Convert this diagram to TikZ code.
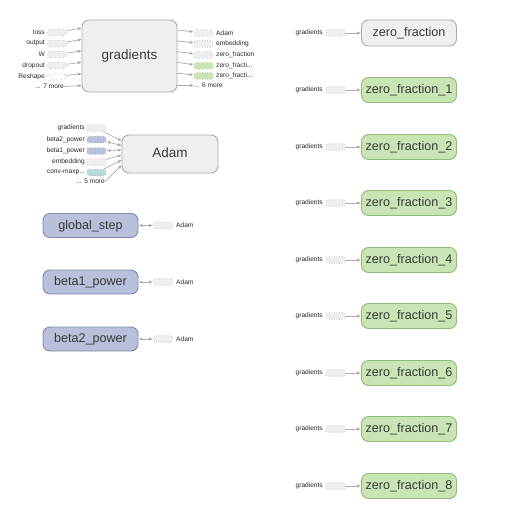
\documentclass[tikz,border=0pt]{standalone}
\usepackage{fontspec}
\setmainfont{Liberation Sans}
\usetikzlibrary{arrows.meta,shapes.geometric}
\definecolor{gfill}{HTML}{EFEFEF}
\definecolor{gdraw}{HTML}{ABABAB}
\definecolor{bfill}{HTML}{B8C0DC}
\definecolor{bdraw}{HTML}{7F89A8}
\definecolor{nfill}{HTML}{C9E5B5}
\definecolor{ndraw}{HTML}{90BA7B}
\definecolor{tfill}{HTML}{B5DAD8}
\definecolor{edge}{HTML}{ABABAB}
\definecolor{optext}{HTML}{3A3A3A}
\tikzset{
  x=1pt,y=-1pt,
  op/.style={draw=gdraw,fill=gfill,rounded corners=7pt,line width=0.9pt,
    font=\fontsize{12.6}{14}\selectfont,text=optext,inner sep=0pt,
    text height=9pt,text depth=2pt},
  opblue/.style={op,draw=bdraw,fill=bfill},
  opgreen/.style={op,draw=ndraw,fill=nfill},
  stub/.style={draw=gdraw,fill=gfill,dotted,rounded corners=2.5pt,line width=0.6pt,
    minimum width=19pt,minimum height=6.5pt,inner sep=0pt},
  stubblue/.style={stub,fill=bfill,draw=bdraw},
  stubgreen/.style={stub,fill=nfill,draw=ndraw},
  stubteal/.style={stub,fill=tfill,draw=gdraw},
  stubell/.style={draw=gdraw,fill=white,dotted,ellipse,line width=0.6pt,
    minimum width=19pt,minimum height=7pt,inner sep=0pt},
  lbl/.style={font=\fontsize{6.6}{7}\selectfont,inner sep=0pt,text=black!85},
  lblr/.style={lbl,anchor=east},
  lbll/.style={lbl,anchor=west},
  ed/.style={draw=edge,line width=0.7pt,-{Latex[length=4pt,width=3.2pt]}},
  edb/.style={draw=edge,line width=0.7pt,{Latex[length=4pt,width=3.2pt]}-{Latex[length=4pt,width=3.2pt]}},
}
\begin{document}
\begin{tikzpicture}
\useasboundingbox (0,0) rectangle (516,516);

% ---------- gradients ----------
\node[op,minimum width=95pt,minimum height=72pt,font=\fontsize{13.5}{15}\selectfont] (grad) at (129.5,56) {gradients};
% inputs
\node[stub] (gi1) at (57,32.5) {}; \node[lblr] (gl1) at (45,32.5) {loss};
\node[stub] (gi2) at (57,43.5) {}; \node[lblr] (gl2) at (45,43.5) {output};
\node[stub] (gi3) at (57,54.5) {}; \node[lblr] (gl3) at (45,54.5) {W};
\node[stub] (gi4) at (57,65.5) {}; \node[lblr] (gl4) at (45,65.5) {dropout};
\node[stubell] (gi5) at (57,76.5) {}; \node[lblr] (gl5) at (45,76.5) {Reshape};
\node[lblr] (gl6) at (64,86.5) {... 7 more};
\coordinate (ge1) at (82,28); \coordinate (ge2) at (82,39.4);
\coordinate (ge3) at (82,50.8); \coordinate (ge4) at (82,62.2);
\coordinate (ge5) at (82,73.6); \coordinate (ge6) at (82,85.5);
\draw[ed] (gi1) -- (ge1);
\draw[ed] (gi2) -- (ge2);
\draw[ed] (gi3) -- (ge3);
\draw[ed] (gi4) -- (ge4);
\draw[ed] (gi5) -- (ge5);
\draw[ed] (gl6.east) -- (ge6);
% outputs
\coordinate (gs1) at (177,30); \coordinate (gs2) at (177,40.8);
\coordinate (gs3) at (177,51.6); \coordinate (gs4) at (177,62.4);
\coordinate (gs5) at (177,73.2); \coordinate (gs6) at (177,85.5);
\node[stub] (go1) at (203.5,33) {}; \node[lbll] (gr1) at (216,33) {Adam};
\node[stub] (go2) at (203.5,44) {}; \node[lbll] (gr2) at (216,44) {embedding};
\node[stub] (go3) at (203.5,55) {}; \node[lbll] (gr3) at (216,55) {zero\_fraction};
\node[stubgreen] (go4) at (203.5,66) {}; \node[lbll] (gr4) at (216,66) {zero\_fracti...};
\node[stubgreen] (go5) at (203.5,76) {}; \node[lbll] (gr5) at (216,76) {zero\_fracti...};
\node[lbll] (gr6) at (194,85.5) {... 6 more};
\draw[ed] (gs1) -- (go1);
\draw[ed] (gs2) -- (go2);
\draw[ed] (gs3) -- (go3);
\draw[ed] (gs4) -- (go4);
\draw[ed] (gs5) -- (go5);
\draw[ed] (gs6) -- (gr6.west);

% ---------- Adam ----------
\node[op,minimum width=96pt,minimum height=38pt,font=\fontsize{13.5}{15}\selectfont] (adam) at (170,154) {Adam};
\node[stub] (ai1) at (96.5,128) {}; \node[lblr] (al1) at (85,128) {gradients};
\node[stubblue] (ai2) at (96.5,139.5) {}; \node[lblr] (al2) at (85,139.5) {beta2\_power};
\node[stubblue] (ai3) at (96.5,151) {}; \node[lblr] (al3) at (85,151) {beta1\_power};
\node[stub] (ai4) at (96.5,162) {}; \node[lblr] (al4) at (85,162) {embedding};
\node[stubteal] (ai5) at (96.5,172.5) {}; \node[lblr] (al5) at (85,172.5) {conv-maxp...};
\node[lblr] (al6) at (105,181.5) {... 5 more};
\coordinate (ae1) at (122,141); \coordinate (ae2) at (122,145.5);
\coordinate (ae3) at (122,150); \coordinate (ae4) at (122,155);
\coordinate (ae5) at (122,160); \coordinate (ae6) at (122,165);
\draw[ed] (ai1) -- (ae1);
\draw[edb] (ai2) -- (ae2);
\draw[edb] (ai3) -- (ae3);
\draw[ed] (ai4) -- (ae4);
\draw[ed] (ai5) -- (ae5);
\draw[ed] (al6.east) -- (ae6);

% ---------- variables ----------
\foreach \nm/\txt/\yy in {gs/global\_step/225.5, b1/beta1\_power/282, b2/beta2\_power/339}{
  \node[opblue,minimum width=95pt,minimum height=24pt] (\nm) at (90.5,\yy) {\txt};
  \node[stub] (\nm s) at (163,\yy) {};
  \node[lbll] (\nm l) at (176,\yy) {Adam};
  \draw[edb] (\nm) -- (\nm s);
}

% ---------- zero fractions ----------
\node[op,minimum width=95pt,minimum height=26pt] (z0) at (409,33) {zero\_fraction};
\node[stub] (z0s) at (335.5,33) {};
\node[lblr] (z0l) at (323,33) {gradients};
\draw[ed] (z0s) -- (z0);
\foreach \i/\yy in {1/90,2/147,3/203,4/260,5/316,6/373,7/429,8/486}{
  \node[opgreen,minimum width=95pt,minimum height=25pt] (z\i) at (409,\yy) {zero\_fraction\_\i};
  \node[stub] (z\i s) at (335.5,\yy) {};
  \node[lblr] (z\i l) at (323,\yy) {gradients};
  \draw[ed] (z\i s) -- (z\i);
}
\end{tikzpicture}
\end{document}
